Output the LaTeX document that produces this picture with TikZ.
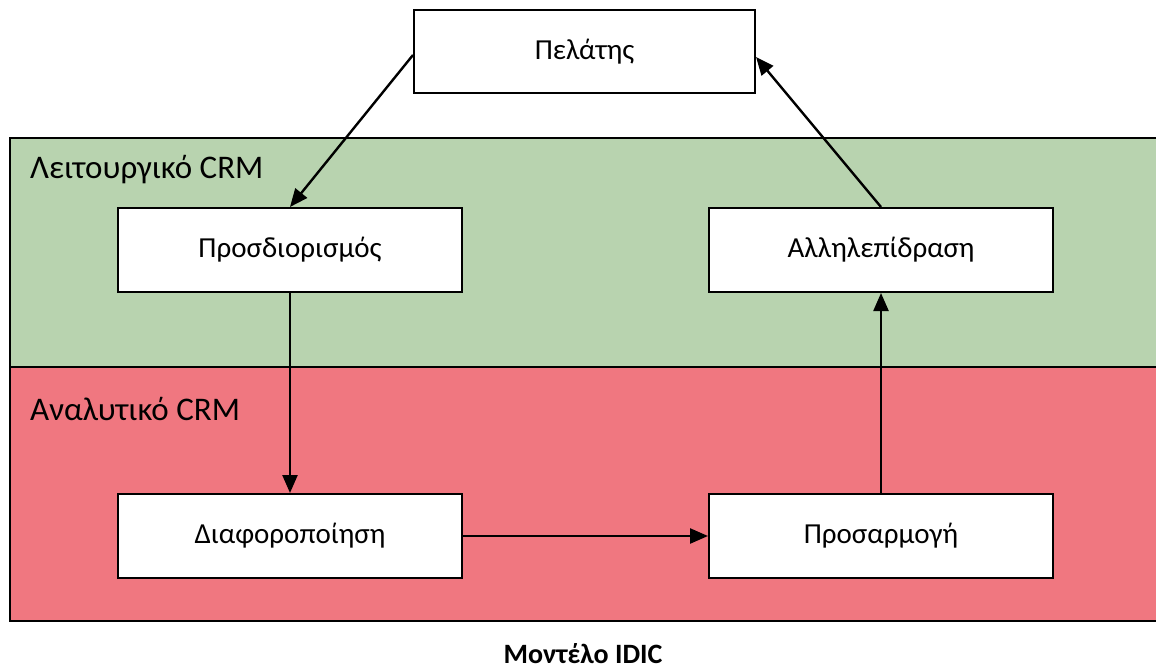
\documentclass[tikz,border=0pt]{standalone}
\usepackage{fontspec}
\setmainfont{Carlito}
\usetikzlibrary{arrows.meta}
\definecolor{bandgreen}{HTML}{B8D3AF}
\definecolor{bandred}{HTML}{F07780}
\tikzset{
  stagebox/.style={draw=black, line width=2pt, fill=white, minimum width=344pt, minimum height=84pt, font=\fontsize{29}{33}\selectfont, inner sep=0pt},
  band/.style={draw=black, line width=2pt},
  bandlabel/.style={anchor=west, font=\fontsize{33}{38}\selectfont, inner sep=0pt},
  flow/.style={draw=black, line width=2.4pt, -{Triangle[length=18pt,width=15pt]}}
}
\begin{document}
\begin{tikzpicture}[x=1pt,y=-1pt]
\useasboundingbox (0,0) rectangle (1156,671);
\fill[white] (0,0) rectangle (1156,671);
\filldraw[band, fill=bandgreen] (10,138) rectangle (1160,367);
\filldraw[band, fill=bandred] (10,367) rectangle (1160,621);
\node[bandlabel] (lab1) at (30,170) {Λειτουργικό CRM};
\node[bandlabel] (lab2) at (30,409) {Αναλυτικό CRM};
\node[stagebox, minimum width=341pt, minimum height=83pt] (cust) at (584.5,51.5) {Πελάτης};
\node[stagebox] (ident) at (290,250) {Προσδιορισμός};
\node[stagebox] (inter) at (881,250) {Αλληλεπίδραση};
\node[stagebox] (diff) at (290,536) {Διαφοροποίηση};
\node[stagebox] (cust2) at (881,536) {Προσαρμογή};
\node[font=\bfseries\fontsize{28}{32}\selectfont, inner sep=0pt] (cap) at (583,654) {Μοντέλο IDIC};
\draw[flow] (cust.west |- 0,55) -- (ident.north);
\draw[flow] (inter.north) -- (cust.east |- 0,57);
\draw[flow] (ident.south) -- (diff.north);
\draw[flow] (diff.east) -- (cust2.west);
\draw[flow] (cust2.north) -- (inter.south);
\end{tikzpicture}
\end{document}
